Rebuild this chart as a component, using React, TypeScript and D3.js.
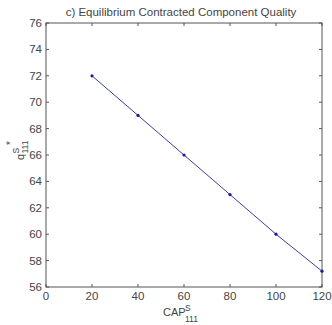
import React from "react";
import * as d3 from "d3";

const capValues = [20, 40, 60, 80, 100, 120];
const qualityValues = [72, 69, 66, 63, 60, 57.2];
const xTicks = [0, 20, 40, 60, 80, 100, 120];
const yTicks = [56, 58, 60, 62, 64, 66, 68, 70, 72, 74, 76];

export default function App() {
  const W = 332, H = 325;
  const left = 46, right = 322, top = 23, bottom = 287;
  const x = d3.scaleLinear().domain([0, 120]).range([left, right]);
  const y = d3.scaleLinear().domain([56, 76]).range([bottom, top]);
  const pts = capValues.map((c, i) => [c, qualityValues[i]] as [number, number]);
  const line = d3.line<[number, number]>().x(d => x(d[0])).y(d => y(d[1]));
  const font = "Arial, 'Liberation Sans', sans-serif";
  const tc = "#444";
  return (
    <svg width={W} height={H} style={{ position: "absolute", left: 0, top: 0 }} fontFamily={font}>
      <rect x={0} y={0} width={W} height={H} fill="#fff" />
      <text x={181} y={16} textAnchor="middle" fontSize={11.5} fill="#444">
        c) Equilibrium Contracted Component Quality
      </text>
      <rect x={left} y={top} width={right - left} height={bottom - top} fill="none" stroke="#555" strokeWidth={1} />
      {xTicks.map(t => (
        <g key={"x" + t}>
          <line x1={x(t)} x2={x(t)} y1={bottom} y2={bottom - 3} stroke="#555" />
          <line x1={x(t)} x2={x(t)} y1={top} y2={top + 3} stroke="#555" />
          <text x={x(t)} y={bottom + 13} textAnchor="middle" fontSize={11.5} fill={tc}>{t}</text>
        </g>
      ))}
      {yTicks.map(t => (
        <g key={"y" + t}>
          <line x1={left} x2={left + 3} y1={y(t)} y2={y(t)} stroke="#555" />
          <line x1={right} x2={right - 3} y1={y(t)} y2={y(t)} stroke="#555" />
          <text x={left - 4} y={y(t) + 4} textAnchor="end" fontSize={11.5} fill={tc}>{t}</text>
        </g>
      ))}
      <path d={line(pts) || ""} fill="none" stroke="#3a3f9a" strokeWidth={1} />
      {pts.map((p, i) => (
        <circle key={i} cx={x(p[0])} cy={y(p[1])} r={1.6} fill="#1a1a9a" />
      ))}
      <text x={163} y={316} fontSize={11} fill={tc}>CAP</text>
      <text x={185} y={311} fontSize={8.5} fill={tc}>S</text>
      <text x={185} y={322} fontSize={8.5} fill={tc}>111</text>
      <g transform={`translate(24, 160) rotate(-90)`}>
        <text x={0} y={0} fontSize={11} fill={tc}>q</text>
        <text x={6.5} y={-5} fontSize={8.5} fill={tc}>S</text>
        <text x={6.5} y={4} fontSize={8.5} fill={tc}>111</text>
        <text x={15} y={-10} fontSize={10} fill={tc}>*</text>
      </g>
    </svg>
  );
}
